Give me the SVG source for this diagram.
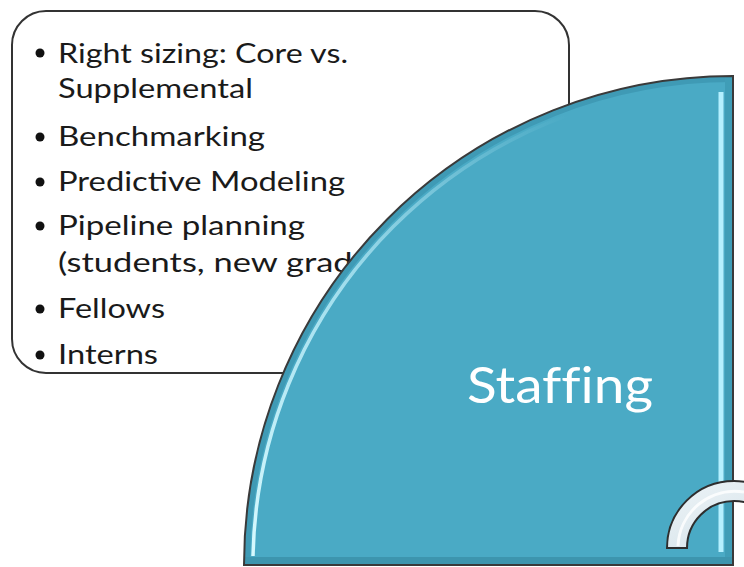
<svg xmlns="http://www.w3.org/2000/svg" width="744" height="567" viewBox="0 0 744 567">
<style>
.item{font-family:Lato,"Open Sans","Liberation Sans",sans-serif;font-size:27px;fill:#1a1a1a}
.bullet{fill:#111}
.title{font-family:Lato,"Open Sans","Liberation Sans",sans-serif;font-size:50px;fill:#ffffff;font-variant-ligatures:none}
</style>
<defs>
<clipPath id="qclip"><path d="M244 565 A489 489 0 0 1 733 76 L733 565 Z"/></clipPath>
<linearGradient id="ringg" x1="0" y1="0" x2="1" y2="1">
<stop offset="0" stop-color="#eef4f7"/>
<stop offset="1" stop-color="#cfdfe7"/>
</linearGradient>
<linearGradient id="arcg" gradientUnits="userSpaceOnUse" x1="250" y1="560" x2="560" y2="110">
<stop offset="0" stop-color="#d8faff" stop-opacity="1"/>
<stop offset="0.5" stop-color="#c9f5ff" stop-opacity="0.7"/>
<stop offset="1" stop-color="#c9f5ff" stop-opacity="0"/>
</linearGradient>
</defs>
<rect width="744" height="567" fill="#ffffff"/>
<g id="textbox">
<rect x="12" y="11" width="557" height="362" rx="34" ry="34" fill="#ffffff" stroke="#333333" stroke-width="2"/>
<circle class="bullet" cx="40" cy="53" r="4.5"/>
<text class="item" x="58" y="63" textLength="290" lengthAdjust="spacingAndGlyphs">Right sizing: Core vs.</text>
<text class="item" x="58" y="98" textLength="195" lengthAdjust="spacingAndGlyphs">Supplemental</text>
<circle class="bullet" cx="40" cy="137" r="4.5"/>
<text class="item" x="58" y="146" textLength="207" lengthAdjust="spacingAndGlyphs">Benchmarking</text>
<circle class="bullet" cx="40" cy="182" r="4.5"/>
<text class="item" x="58" y="191" textLength="287" lengthAdjust="spacingAndGlyphs">Predictive Modeling</text>
<circle class="bullet" cx="40" cy="226" r="4.5"/>
<text class="item" x="58" y="235" textLength="247" lengthAdjust="spacingAndGlyphs">Pipeline planning</text>
<text class="item" x="58" y="272" textLength="318" lengthAdjust="spacingAndGlyphs">(students, new grads)</text>
<circle class="bullet" cx="40" cy="309" r="4.5"/>
<text class="item" x="58" y="318" textLength="107" lengthAdjust="spacingAndGlyphs">Fellows</text>
<circle class="bullet" cx="40" cy="355" r="4.5"/>
<text class="item" x="58" y="364" textLength="100" lengthAdjust="spacingAndGlyphs">Interns</text>
</g>
<g id="staffing">
<path d="M244 565 A489 489 0 0 1 733 76 L733 565 Z" fill="#4aaac5"/>
<g clip-path="url(#qclip)">
<path d="M244 565 A489 489 0 0 1 733 76" fill="none" stroke="#3f9ab5" stroke-width="12"/>
<path d="M253 556 A480 480 0 0 1 722 86" fill="none" stroke="url(#arcg)" stroke-width="3.5"/>
<line x1="729" y1="76" x2="729" y2="565" stroke="#3f9db7" stroke-width="8"/>
<line x1="721" y1="92" x2="721" y2="552" stroke="#b5f0ff" stroke-width="5"/>
<line x1="244" y1="561" x2="733" y2="561" stroke="#3d95ae" stroke-width="8"/>
</g>
<path d="M244 565 A489 489 0 0 1 733 76 L733 565 Z" fill="none" stroke="#3a3a3a" stroke-width="2"/>
<text class="title" x="467" y="403" textLength="186" lengthAdjust="spacingAndGlyphs">Staffing</text>
</g>
<g id="ring">
<path d="M667 548 A67 67 0 0 1 801 548 L781 548 A47 47 0 0 0 687 548 Z" fill="url(#ringg)" stroke="#2e2e2e" stroke-width="2"/>
<path d="M678 546 A57 57 0 0 1 744 492" fill="none" stroke="#ffffff" stroke-width="3" opacity="0.8"/>
</g>
</svg>
